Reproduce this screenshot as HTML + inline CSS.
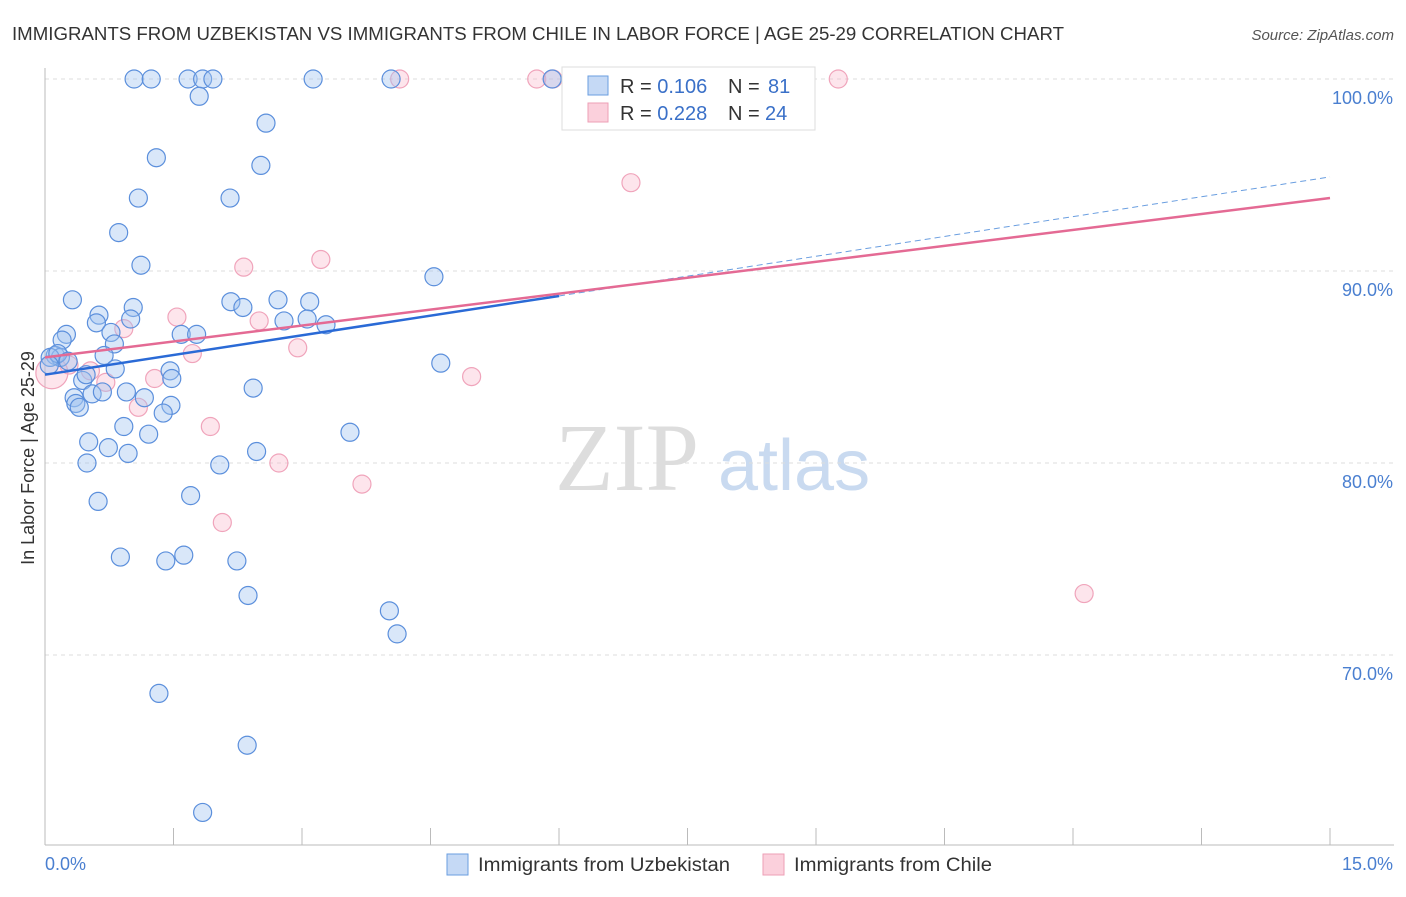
<!DOCTYPE html>
<html><head><meta charset="utf-8"><style>
body{margin:0;background:#fff;font-family:"Liberation Sans",sans-serif}
</style></head><body>
<svg id="c" width="1406" height="892" xmlns="http://www.w3.org/2000/svg">
<text x="12" y="40" font-size="18" fill="#333" textLength="1052" lengthAdjust="spacingAndGlyphs">IMMIGRANTS FROM UZBEKISTAN VS IMMIGRANTS FROM CHILE IN LABOR FORCE | AGE 25-29 CORRELATION CHART</text>
<text x="1394" y="40" font-size="15" fill="#555" font-style="italic" text-anchor="end">Source: ZipAtlas.com</text>
<text x="555" y="490" font-size="96" fill="#ddd" font-family="Liberation Serif,serif">ZIP</text>
<text x="718" y="490" font-size="72" fill="#c9daf0">atlas</text>
<g id="grid"></g><g id="axes"></g><g id="pts"></g><g id="trend"></g>
<text transform="translate(34,458) rotate(-90)" font-size="18" fill="#333" text-anchor="middle">In Labor Force | Age 25-29</text>
<g>
<rect x="562" y="67" width="253" height="63" fill="#fff" stroke="#ddd"/>
<rect x="588" y="76" width="20" height="19" fill="#c5d9f5" stroke="#6a9ee0"/>
<rect x="588" y="103" width="20" height="19" fill="#fbd0dc" stroke="#ee9fb6"/>
<text x="620" y="93" font-size="20" fill="#333">R = <tspan fill="#3a70c8">0.106</tspan></text>
<text x="728" y="93" font-size="20" fill="#333">N = <tspan x="768" fill="#3a70c8">81</tspan></text>
<text x="620" y="120" font-size="20" fill="#333">R = <tspan fill="#3a70c8">0.228</tspan></text>
<text x="728" y="120" font-size="20" fill="#333">N = <tspan x="765" fill="#3a70c8">24</tspan></text>
</g>
<g>
<rect x="447" y="854" width="21" height="21" fill="#c5d9f5" stroke="#6a9ee0"/>
<text x="478" y="871" font-size="19" fill="#333" textLength="252" lengthAdjust="spacingAndGlyphs">Immigrants from Uzbekistan</text>
<rect x="763" y="854" width="21" height="21" fill="#fbd0dc" stroke="#ee9fb6"/>
<text x="794" y="871" font-size="19" fill="#333" textLength="198" lengthAdjust="spacingAndGlyphs">Immigrants from Chile</text>
</g>
</svg>
<script>
const xTicks=[0,1.5,3,4.5,6,7.5,9,10.5,12,13.5,15];
const yTicks=[70,80,90,100];
const yTickLabels=["70.0%","80.0%","90.0%","100.0%"];
const uzX=[1.04,1.24,1.67,1.84,1.96,3.13,4.04,5.92,1.80,2.58,1.30,2.52,1.09,2.16,0.86,1.12,4.54,0.32,2.17,2.72,3.09,1.03,2.31,0.63,0.60,1.00,2.79,3.06,3.28,0.25,0.20,0.77,1.59,1.77,0.81,0.69,0.12,0.18,0.06,0.15,0.27,0.05,4.62,0.82,1.46,0.44,0.48,1.48,0.95,0.55,0.67,2.43,0.34,1.16,0.36,0.40,1.47,1.38,0.92,1.21,3.56,0.51,0.74,0.97,2.47,0.49,2.04,1.70,0.62,0.88,1.41,1.62,2.24,2.37,4.02,4.11,1.33,2.36,1.84];
const uzY=[100,100,100,100,100,100,100,100,99.1,97.7,95.9,95.5,93.8,93.8,92,90.3,89.7,88.5,88.4,88.5,88.4,88.1,88.1,87.7,87.3,87.5,87.4,87.5,87.2,86.7,86.4,86.8,86.7,86.7,86.2,85.6,85.6,85.5,85.5,85.7,85.3,85.1,85.2,84.9,84.8,84.3,84.6,84.4,83.7,83.6,83.7,83.9,83.4,83.4,83.1,82.9,83.0,82.6,81.9,81.5,81.6,81.1,80.8,80.5,80.6,80.0,79.9,78.3,78.0,75.1,74.9,75.2,74.9,73.1,72.3,71.1,68.0,65.3,61.8];
const chX=[4.14,5.74,5.93,9.26,6.84,2.32,3.22,1.54,2.50,0.92,2.95,1.72,0.28,0.53,0.08,1.28,0.71,4.98,1.09,1.93,2.73,3.70,2.07,12.13];
const chY=[100,100,100,100,94.6,90.2,90.6,87.6,87.4,87.0,86.0,85.7,85.1,84.8,84.7,84.4,84.2,84.5,82.9,81.9,80.0,78.9,76.9,73.2];
const chR=[9,9,9,9,9,9,9,9,9,9,9,9,9,9,16,9,9,9,9,9,9,9,9,9];
const uzTrend=[84.6,88.7,94.9];
const chTrend=[85.5,93.8];
const X=v=>45+v*(1285/15), Y=v=>79+(100-v)*19.2;
const NS="http://www.w3.org/2000/svg";
function mk(p,t,a){const e=document.createElementNS(NS,t);for(const k in a)e.setAttribute(k,a[k]);document.getElementById(p).appendChild(e);return e;}
yTicks.forEach((t,i)=>{
 const g=mk('grid','line',{x1:45,x2:1394,y1:Y(t),y2:Y(t),stroke:'#ddd','stroke-dasharray':'4,4'});
 
 
 const l=mk('axes','text',{x:1393,y:Y(t)+25,'font-size':18,fill:'#4a7fd0','text-anchor':'end'});
 l.textContent=yTickLabels[i];
 
 
});
mk('axes','line',{x1:45,x2:45,y1:68,y2:845,stroke:'#bbb'});
mk('axes','line',{x1:45,x2:1394,y1:845,y2:845,stroke:'#bbb'});
xTicks.forEach(t=>{const e=mk('axes','line',{x1:X(t),x2:X(t),y1:828,y2:845,stroke:'#bbb'});
 
 });
let a=mk('axes','text',{x:45,y:870,'font-size':18,fill:'#4a7fd0'});a.textContent='0.0%';


a=mk('axes','text',{x:1393,y:870,'font-size':18,fill:'#4a7fd0','text-anchor':'end'});a.textContent='15.0%';


chX.forEach((v,i)=>{const c=mk('pts','circle',{cx:X(v),cy:Y(chY[i]),r:chR[i],fill:'rgba(248,180,200,0.35)',stroke:'#f0a4bb','stroke-width':1.2});
 
 });
uzX.forEach((v,i)=>{const c=mk('pts','circle',{cx:X(v),cy:Y(uzY[i]),r:9,fill:'rgba(160,195,240,0.4)',stroke:'#5b8fdc','stroke-width':1.2});
 
 });
let t=mk('trend','line',{x1:X(0),y1:Y(uzTrend[0]),x2:X(6),y2:Y(uzTrend[1]),stroke:'#2a6ad6','stroke-width':2.5});


t=mk('trend','line',{x1:X(6),y1:Y(uzTrend[1]),x2:X(15),y2:Y(uzTrend[2]),stroke:'#6a9ee0','stroke-width':1,'stroke-dasharray':'6,4'});


t=mk('trend','line',{x1:X(0),y1:Y(chTrend[0]),x2:X(15),y2:Y(chTrend[1]),stroke:'#e46a94','stroke-width':2.5});


const topLine=mk('grid','line',{x1:45,x2:1394,y1:79,y2:79,stroke:'#ddd','stroke-dasharray':'4,4'});


</script>
</body></html>
